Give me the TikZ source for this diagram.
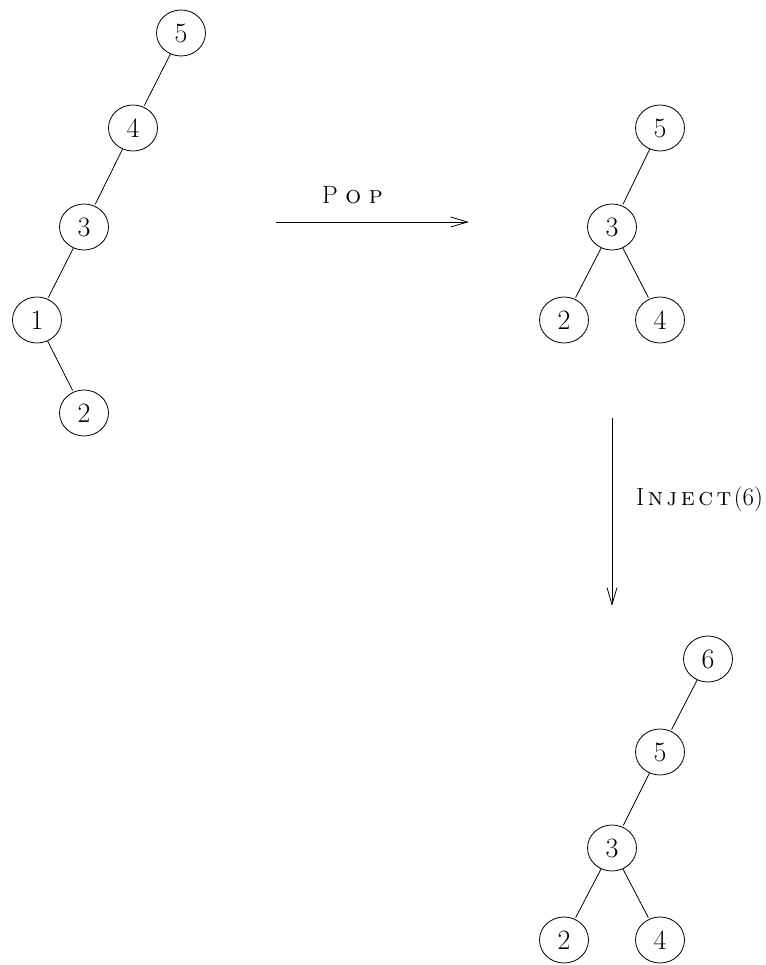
\documentclass[tikz,border=0pt]{standalone}
\usepackage{fontspec}
\usetikzlibrary{arrows.meta,shapes.geometric}
\begin{document}
\begin{tikzpicture}[x=1pt,y=-1pt,
  tn/.style={draw,ellipse,minimum width=49pt,minimum height=46pt,inner sep=0pt,line width=0.8pt,font=\fontsize{28}{32}\selectfont},
  edge/.style={line width=0.8pt,shorten >=1.5pt},
  op/.style={line width=0.8pt,-{Straight Barb[length=17pt,width=10pt,line width=0.8pt]}},
  lbl/.style={font=\fontsize{25}{30}\selectfont}]
\useasboundingbox (0,0) rectangle (765,965);
% left tree
\node[tn] (a5) at (181,33) {5};
\node[tn] (a4) at (133,128) {4};
\node[tn] (a3) at (84,227) {3};
\node[tn] (a1) at (37,320) {1};
\node[tn] (a2) at (84,413) {2};
\draw[edge] (a5) -- (a4);
\draw[edge] (a4) -- (a3);
\draw[edge] (a3) -- (a1);
\draw[edge] (a1) -- (a2);
% middle tree
\node[tn] (b5) at (660,128) {5};
\node[tn] (b3) at (612,227) {3};
\node[tn] (b2) at (564,320) {2};
\node[tn] (b4) at (660,320) {4};
\draw[edge] (b5) -- (b3);
\draw[edge] (b3) -- (b2);
\draw[edge] (b3) -- (b4);
% bottom tree
\node[tn] (c6) at (708,659) {6};
\node[tn] (c5) at (660,752) {5};
\node[tn] (c3) at (612,848) {3};
\node[tn] (c2) at (564,940) {2};
\node[tn] (c4) at (660,940) {4};
\draw[edge] (c6) -- (c5);
\draw[edge] (c5) -- (c3);
\draw[edge] (c3) -- (c2);
\draw[edge] (c3) -- (c4);
% operations
\coordinate (p1) at (276,222);
\coordinate (p2) at (469,222);
\draw[op] (p1) -- (p2);
\node[lbl,anchor=base west,inner sep=0pt] (pop) at (322,204) {P\kern7.5pt\textsc{o}\kern7.5pt\textsc{p}};
\coordinate (q1) at (612,418);
\coordinate (q2) at (612,606);
\draw[op] (q1) -- (q2);
\node[lbl,anchor=base west,inner sep=0pt] (inj) at (636,505) {I\kern3.5pt\textsc{n}\kern3.5pt\textsc{j}\kern3.5pt\textsc{e}\kern3.5pt\textsc{c}\kern3.5pt\textsc{t}\kern2.5pt(6)};
\end{tikzpicture}
\end{document}
